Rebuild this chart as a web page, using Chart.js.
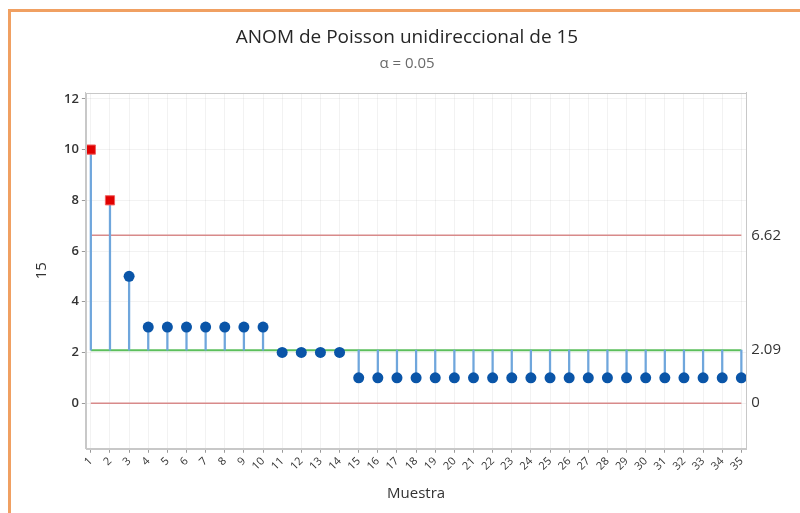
<!DOCTYPE html>
<html>
<head>
<meta charset="utf-8">
<script src="https://cdn.jsdelivr.net/npm/chart.js@4.4.1/dist/chart.umd.min.js"></script>
<style>
  html, body { margin: 0; padding: 0; background: #fff; }
  #wrap { position: relative; width: 800px; height: 513px; }
  #frame { position: absolute; left: 8px; top: 9px; right: 0; bottom: 0;
           border-left: 3px solid #f0a062; border-top: 3px solid #f0a062; pointer-events: none; }
  canvas { position: absolute; left: 0; top: 0; }
</style>
</head>
<body>
<div id="wrap">
  <canvas id="myChart" width="800" height="513"></canvas>
  <div id="frame"></div>
</div>
<script>
// sample numbers and observed counts
const samples = [];
for (let i = 1; i <= 35; i++) samples.push(i);
const counts = [10, 8, 5, 3, 3, 3, 3, 3, 3, 3, 2, 2, 2, 2,
  1, 1, 1, 1, 1, 1, 1, 1, 1, 1, 1, 1, 1, 1, 1, 1, 1, 1, 1, 1, 1];

const centerLine = 2.09;
const upperLimit = 6.62;
const lowerLimit = 0;
const yTicks = [0, 2, 4, 6, 8, 10, 12];
const rightTicks = [lowerLimit, centerLine, upperLimit];

document.addEventListener('DOMContentLoaded', function () {
  createChart();
});

// gray box round the plot area (top edge is missing otherwise)
const plotBox = {
  id: 'plotBox',
  afterDraw(chart) {
    const a = chart.chartArea, c = chart.ctx;
    c.save();
    c.strokeStyle = '#c8c8c8';
    c.lineWidth = 1;
    c.strokeRect(Math.round(a.left) + 0.5, Math.round(a.top) + 0.5,
      Math.round(a.right - a.left), Math.round(a.bottom - a.top));
    c.restore();
  }
};

function createChart() {
  const ctx = document.getElementById('myChart').getContext('2d');

  const inLimits = [], outLimits = [], stems = [];
  samples.forEach((s, i) => {
    const v = counts[i];
    stems.push({ x: s, y: [centerLine, v] });
    if (v > upperLimit || v < lowerLimit) outLimits.push({ x: s, y: v });
    else inLimits.push({ x: s, y: v });
  });

  const first = samples[0], last = samples[samples.length - 1];
  const hline = (y) => [{ x: first, y: y }, { x: last, y: y }];

  new Chart(ctx, {
    data: {
      datasets: [
        {
          type: 'scatter', data: outLimits, order: 0,
          pointStyle: 'rect', pointRadius: 6.5, pointBackgroundColor: '#e00000',
          pointBorderColor: '#f06060', pointBorderWidth: 1
        },
        {
          type: 'scatter', data: inLimits, order: 0,
          pointStyle: 'circle', pointRadius: 5.5, pointBackgroundColor: '#0a55a8',
          pointBorderColor: '#0a55a8', pointBorderWidth: 0
        },
        {
          type: 'bar', data: stems, order: 1,
          backgroundColor: '#6fa6dc', barThickness: 1.6, borderWidth: 0
        },
        {
          type: 'line', data: hline(centerLine), order: 2,
          borderColor: '#5cbf5c', borderWidth: 2, pointRadius: 0
        },
        {
          type: 'line', data: hline(upperLimit), order: 2,
          borderColor: '#d88a8a', borderWidth: 1.5, pointRadius: 0
        },
        {
          type: 'line', data: hline(lowerLimit), order: 2,
          borderColor: '#d88a8a', borderWidth: 1.5, pointRadius: 0
        }
      ]
    },
    options: {
      responsive: false,
      animation: false,
      layout: { padding: { left: 28, right: 14, top: 6, bottom: 6 } },
      plugins: {
        legend: { display: false },
        tooltip: { enabled: false },
        title: {
          display: true,
          text: 'ANOM de Poisson unidireccional de 15',
          color: '#262626',
          font: { family: 'Open Sans', size: 19, weight: 'normal' },
          padding: { top: 20, bottom: 6 }
        },
        subtitle: {
          display: true,
          text: 'α = 0.05',
          color: '#6a6a6a',
          font: { family: 'Open Sans', size: 15 },
          padding: { bottom: 20 }
        }
      },
      scales: {
        x: {
          type: 'linear',
          offset: false,
          min: 0.74, max: 35.26,
          afterBuildTicks: (axis) => { axis.ticks = samples.map(v => ({ value: v })); },
          ticks: {
            color: '#333', font: { family: 'Open Sans', size: 11 },
            minRotation: 45, maxRotation: 45, autoSkip: false, padding: 2
          },
          grid: {
            offset: false,
            color: 'rgba(0,0,0,0.05)', tickColor: '#999', tickLength: 4,
            drawTicks: true
          },
          border: { color: '#c8c8c8', width: 1 },
          title: {
            display: true, text: 'Muestra', color: '#333',
            font: { family: 'Open Sans', size: 15 }, padding: { top: 10 }
          }
        },
        y: {
          min: -1.8, max: 12.24,
          afterBuildTicks: (axis) => { axis.ticks = yTicks.map(v => ({ value: v })); },
          ticks: { color: '#333', font: { family: 'Open Sans', size: 13, weight: '600' }, padding: 3 },
          grid: { color: 'rgba(0,0,0,0.05)', tickColor: '#999', tickLength: 4 },
          border: { color: '#c8c8c8', width: 1 },
          title: {
            display: true, text: '15', color: '#333',
            font: { family: 'Open Sans', size: 15 }, padding: { top: 5, bottom: 10 }
          }
        },
        y2: {
          position: 'right',
          min: -1.8, max: 12.24,
          afterBuildTicks: (axis) => { axis.ticks = rightTicks.map(v => ({ value: v })); },
          ticks: {
            color: '#333', font: { family: 'Open Sans', size: 15 }, padding: 5,
            callback: (v) => String(v)
          },
          grid: { display: false, drawTicks: false },
          border: { color: '#c8c8c8', width: 1 }
        }
      }
    },
    plugins: [plotBox]
  });
}
</script>
</body>
</html>
